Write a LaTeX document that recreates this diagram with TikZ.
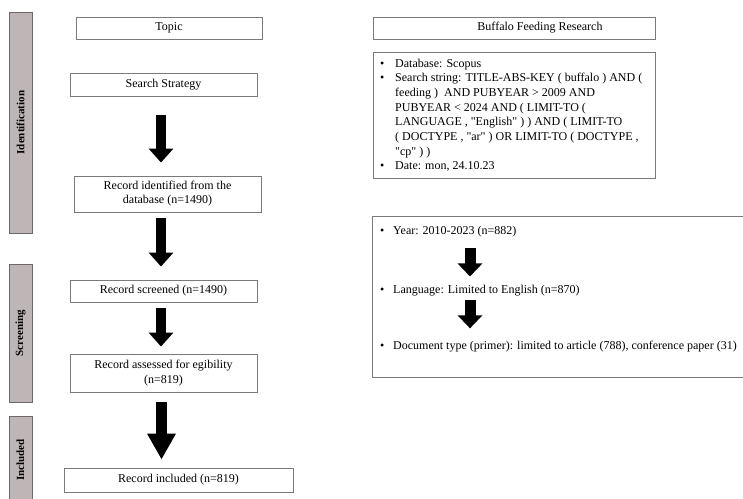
\documentclass[tikz,border=0pt]{standalone}
\usepackage{fontspec}
\setmainfont{Liberation Serif}[Ligatures=TeXOff]
\usetikzlibrary{arrows.meta}
\definecolor{boxline}{HTML}{7A7A7A}
\definecolor{barfill}{HTML}{BEB6B6}
\definecolor{barline}{HTML}{6E6868}
\begin{document}
\begin{tikzpicture}[x=1pt,y=-1pt,
  font=\fontsize{12}{14.5}\selectfont,
  box/.style={draw=boxline, line width=0.9pt, inner sep=0pt, align=center},
  bar/.style={draw=barline, fill=barfill, line width=0.9pt, inner sep=0pt, minimum width=23pt},
  barlabel/.style={rotate=90, font=\bfseries\fontsize{11}{13}\selectfont},
  blk/.style={line width=10pt, -{Triangle[width=24pt,length=14pt]}},
  blkbig/.style={line width=11pt, -{Triangle[width=27pt,length=26pt]}},
  blksmall/.style={line width=11pt, -{Triangle[width=24pt,length=13pt]}},
  item/.style={anchor=base west, inner sep=0pt},
]
\useasboundingbox (0,0) rectangle (743,498);
\clip (0,0) rectangle (743,498);
\fill[white] (0,0) rectangle (743,498);

% stage bars
\node[bar, minimum height=221pt] (bid) at (20.5,122.5) {};
\node[barlabel] (lid) at (bid) {Identification};
\node[bar, minimum height=138pt] (bsc) at (20.5,333) {};
\node[barlabel] (lsc) at (bsc) {Screening};
\node[bar, minimum height=88pt] (bin) at (20.5,460) {};
\node[barlabel] (lin) at (bin) {Included};

% left flow
\node[box, minimum width=186pt, minimum height=22pt] (topic) at (169,28) {Topic};
\node[box, minimum width=187pt, minimum height=23pt] (search) at (163.5,84.5) {Search Strategy};
\node[box, minimum width=187pt, minimum height=36pt, font=\fontsize{12}{14}\selectfont] (ident) at (167.5,194) {Record identified from the\\database (n=1490)};
\node[box, minimum width=187pt, minimum height=22pt] (screen) at (163.5,291) {Record screened (n=1490)};
\node[box, minimum width=187pt, minimum height=38pt, font=\fontsize{12}{15}\selectfont] (assess) at (163.5,373) {Record assessed for egibility\\(n=819)};
\node[box, minimum width=229pt, minimum height=24pt] (incl) at (178.5,480) {Record included (n=819)};

\coordinate (ax) at (161,0);
\coordinate (bx) at (161.5,0);
\draw[blk, shorten <=19pt, shorten >=13pt] (search.south -| ax) -- (ident.north -| ax);
\draw[blk, shorten <=6pt, shorten >=13pt] (ident.south -| ax) -- (screen.north -| ax);
\draw[blk, shorten <=6pt, shorten >=7pt] (screen.south -| ax) -- (assess.north -| ax);
\draw[blkbig, shorten <=10pt, shorten >=8pt] (assess.south -| bx) -- (incl.north -| bx);

% right side
\node[box, minimum width=282pt, minimum height=22pt] (bfr) at (514,28) {};
\node[inner sep=0pt] (bfrt) at (540,28) {Buffalo Feeding Research};

\node[box, minimum width=282pt, minimum height=126pt] (det) at (514,115) {};
\node[item, font=\fontsize{12}{14.7}\selectfont] (dett) at (380,67) {%
\begin{tabular}[t]{@{}p{15pt}@{}l@{}}
\textbullet & Database: Scopus\\
\textbullet & Search string: TITLE-ABS-KEY ( buffalo ) AND (\\
 & feeding )\ \ AND PUBYEAR > 2009 AND\\
 & PUBYEAR < 2024 AND ( LIMIT-TO (\\
 & LANGUAGE , "English" ) ) AND ( LIMIT-TO\\
 & ( DOCTYPE , "ar" ) OR LIMIT-TO ( DOCTYPE ,\\
 & "cp" ) )\\
\textbullet & Date: mon, 24.10.23
\end{tabular}};

\node[box, minimum width=388pt, minimum height=161pt] (sel) at (566,296.5) {};
\node[item] (year) at (380,234) {\makebox[13pt][l]{\textbullet}Year: 2010-2023 (n=882)};
\node[item] (lang) at (380,293) {\makebox[13pt][l]{\textbullet}Language: Limited to English (n=870)};
\node[item] (doc) at (380,349) {\makebox[13pt][l]{\textbullet}Document type (primer): limited to article (788), conference paper (31)};

\coordinate (cx) at (470,0);
\draw[blksmall, shorten <=11pt, shorten >=8pt] (year.south -| cx) -- (lang.north -| cx);
\draw[blksmall, shorten <=4pt, shorten >=12pt] (lang.south -| cx) -- (doc.north -| cx);
\end{tikzpicture}
\end{document}
